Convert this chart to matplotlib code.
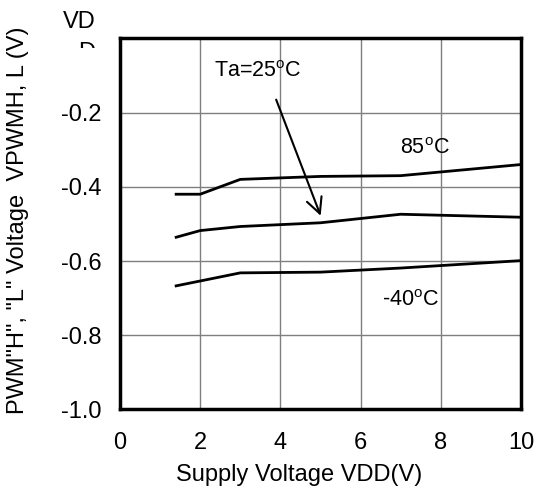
import matplotlib
matplotlib.use('Agg')
import matplotlib.pyplot as plt
from matplotlib.patches import Rectangle

plt.rcParams['font.family'] = ['Liberation Sans', 'DejaVu Sans']
plt.rcParams['mathtext.fontset'] = 'custom'
plt.rcParams['mathtext.rm'] = 'Liberation Sans'

# data
vdd_85 = [1.4, 2.0, 3.0, 5.0, 7.0, 10.0]
v_85 = [-0.42, -0.42, -0.38, -0.372, -0.37, -0.34]
vdd_25 = [1.4, 2.0, 3.0, 5.0, 7.0, 10.0]
v_25 = [-0.536, -0.518, -0.507, -0.497, -0.474, -0.482]
vdd_m40 = [1.4, 3.0, 5.0, 7.0, 10.0]
v_m40 = [-0.667, -0.632, -0.630, -0.619, -0.599]

x_ticks = [0, 2, 4, 6, 8, 10]
y_ticks = [-1.0, -0.8, -0.6, -0.4, -0.2]

fig = plt.figure(figsize=(5.37, 4.86), dpi=100)
ax = fig.add_axes([0.2235, 0.1576, 0.7465, 0.7634])

ax.plot(vdd_85, v_85, color='black', lw=2)
ax.plot(vdd_25, v_25, color='black', lw=2)
ax.plot(vdd_m40, v_m40, color='black', lw=2)

ax.set_xlim(0, 10)
ax.set_ylim(-1.0, 0.0)
ax.set_xticks(x_ticks)
ax.set_yticks(y_ticks)
ax.set_xticklabels([str(t) for t in x_ticks])
ax.set_yticklabels(['%.1f' % t for t in y_ticks])
ax.tick_params(length=0, labelsize=17)
ax.tick_params(axis='y', pad=13)
ax.tick_params(axis='x', pad=16)
ax.grid(True, color='#7f7f7f', lw=1)
for spine in ax.spines.values():
    spine.set_linewidth(2.5)
    spine.set_color('black')

# axis titles (placed in pixels like the reference)
fig.text(0.5568, 1 - 475 / 486, 'Supply Voltage VDD(V)', fontsize=17,
         ha='center', va='center')
fig.text(18 / 537, 1 - 220 / 486, 'PWM"H", "L" Voltage  VPWMH, L (V)', rotation=90,
         fontsize=17, ha='center', va='center')

# annotations
ax.annotate('', xy=(5.03, -0.485), xytext=(3.87, -0.158),
            arrowprops=dict(arrowstyle='->', color='black', lw=1.5,
                            mutation_scale=28))
ax.text(3.43, -0.088, 'Ta=25$^\\mathrm{o}$C', fontsize=15.5, ha='center', va='center')
ax.text(7.6, -0.298, '85$^\\mathrm{o}$C', fontsize=15.5, ha='center', va='center')
ax.text(7.25, -0.706, '-40$^\\mathrm{o}$C', fontsize=15.5, ha='center', va='center')

# stray "VDD" label at top left, second line cut off
fig.text(79 / 537, 1 - 22 / 486, 'VD', fontsize=17, ha='center', va='center')
fig.text(87 / 537, 1 - 53 / 486, 'D', fontsize=17, ha='center', va='center')
fig.patches.append(Rectangle((70 / 537, 1 - 75 / 486), 40 / 537, 27 / 486,
                             transform=fig.transFigure,
                             facecolor='white', edgecolor='none', zorder=5))

fig.savefig('out.png', dpi=100)
